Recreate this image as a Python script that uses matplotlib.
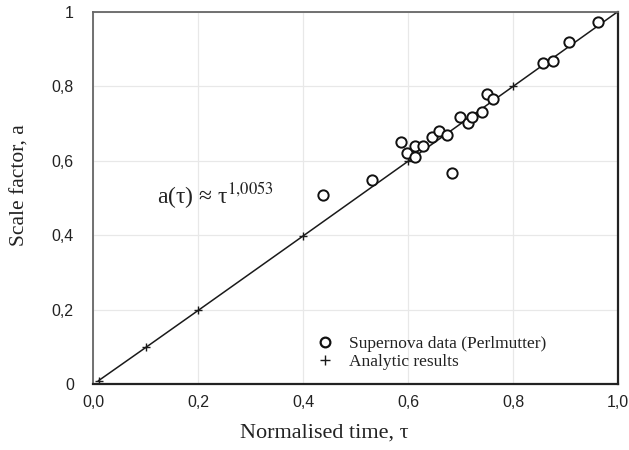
import matplotlib
matplotlib.use("Agg")
import matplotlib.pyplot as plt
from matplotlib.lines import Line2D

# Supernova data (Perlmutter)
sn_tau = [0.438, 0.531, 0.586, 0.598, 0.614, 0.614, 0.629, 0.645, 0.659, 0.674, 0.684,
          0.699, 0.714, 0.722, 0.741, 0.751, 0.761, 0.858, 0.876, 0.906, 0.962]
sn_a = [0.509, 0.549, 0.649, 0.621, 0.639, 0.609, 0.639, 0.664, 0.680, 0.670, 0.567,
        0.718, 0.702, 0.718, 0.731, 0.778, 0.765, 0.861, 0.866, 0.917, 0.973]

# Analytic results
an_tau = [0.01, 0.1, 0.2, 0.4, 0.6, 0.8, 1.0]
exponent = 1.0053
an_a = [t ** exponent for t in an_tau]

xticks = [0.0, 0.2, 0.4, 0.6, 0.8, 1.0]
xticklabels = ["0,0", "0,2", "0,4", "0,6", "0,8", "1,0"]
yticks = [0.0, 0.2, 0.4, 0.6, 0.8, 1.0]
yticklabels = ["0", "0,2", "0,4", "0,6", "0,8", "1"]

serif = "Liberation Serif"
sans = "Liberation Sans"

fig = plt.figure(figsize=(6.29, 4.5), dpi=100)
ax = fig.add_axes([0.1483, 0.146, 0.8342, 0.8284])

ax.plot(an_tau, an_a, color="#1a1a1a", lw=1.1, zorder=2)
ax.plot(an_tau, an_a, ls="none", color="#1a1a1a", marker="+", ms=6, mew=1.0, zorder=2)
ax.scatter(sn_tau, sn_a, s=55, facecolors="white", edgecolors="#111111", linewidths=1.4,
           zorder=3)

ax.set_xlim(0, 1)
ax.set_ylim(0, 1)
ax.set_xticks(xticks)
ax.set_xticklabels(xticklabels, fontfamily=sans, fontsize=11.5, color="#222222")
ax.set_yticks(yticks)
ax.set_yticklabels(yticklabels, fontfamily=sans, fontsize=11.5, color="#222222")
ax.tick_params(axis="both", length=0)
ax.tick_params(axis="x", pad=8)
ax.tick_params(axis="y", pad=14)
ax.grid(True, color="#e8e8e8", lw=0.9)
ax.set_axisbelow(True)

for side in ["left", "top"]:
    ax.spines[side].set_color("#666666")
    ax.spines[side].set_linewidth(1.3)
for side in ["right", "bottom"]:
    ax.spines[side].set_color("#222222")
    ax.spines[side].set_linewidth(1.6)

ax.set_xlabel("Normalised time, τ", fontfamily=serif, fontsize=16, color="#222222")
ax.xaxis.set_label_coords(0.44, -0.105)
ax.set_ylabel("Scale factor, a", fontfamily=serif, fontsize=15.5, color="#222222")
ax.yaxis.set_label_coords(-0.121, 0.535)

ax.text(0.122, 0.507, "a(τ) ≈ τ$^{1{,}0053}$", fontfamily=serif, fontsize=17,
        color="#222222", va="center", ha="left", transform=ax.transAxes,
        math_fontfamily="stix")

handles = [
    Line2D([], [], ls="none", marker="o", ms=7, mfc="white", mec="#111111", mew=1.6),
    Line2D([], [], ls="none", marker="+", ms=7, color="#1a1a1a", mew=1.0),
]
labels = ["Supernova data (Perlmutter)", "Analytic results"]
leg = ax.legend(handles, labels,
                loc="lower left", bbox_to_anchor=(0.396, -0.003), frameon=False,
                prop={"family": serif, "size": 12.5}, handletextpad=0.85,
                labelspacing=0.1, handlelength=1.0)
for t in leg.get_texts():
    t.set_color("#222222")

fig.savefig("out.png", dpi=100)
